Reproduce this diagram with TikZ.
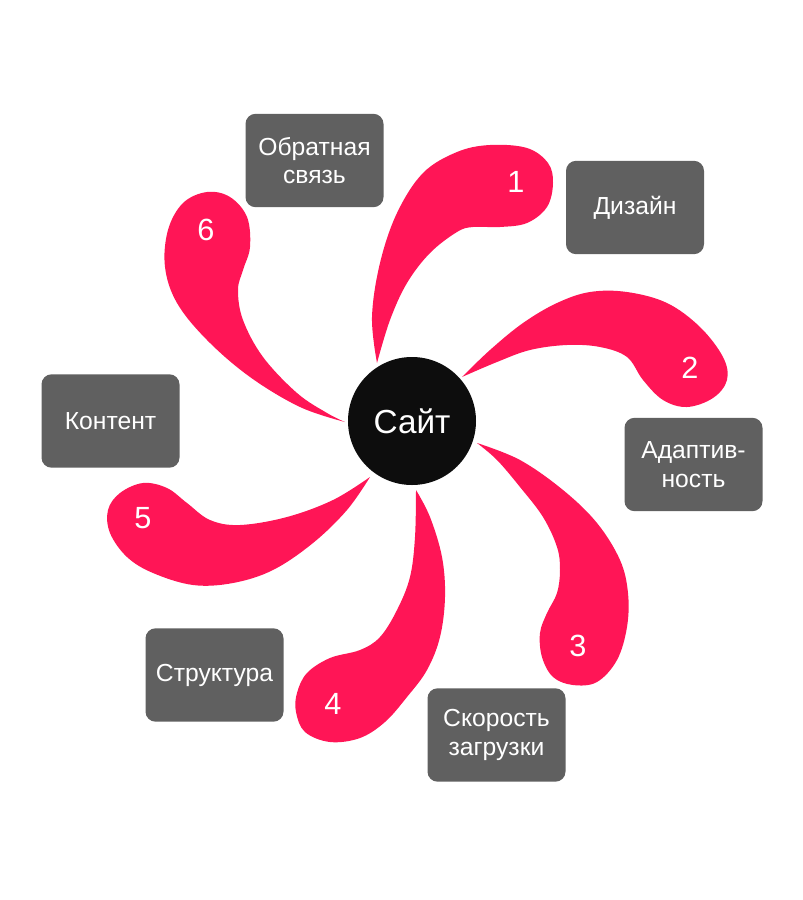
\documentclass[tikz,border=0pt]{standalone}
\usepackage{fontspec}
\setmainfont{Liberation Sans}
\usetikzlibrary{positioning}
\definecolor{cPetal}{HTML}{FF1556}
\definecolor{cBox}{HTML}{606060}
\definecolor{cHub}{HTML}{0D0D0D}
\tikzset{
  petal/.style={fill=cPetal, draw=none},
  topic/.style={fill=cBox, rounded corners=7.5pt, minimum width=103.5pt,
                minimum height=70pt, align=center, text=white, inner sep=2pt,
                font=\fontsize{18.5}{21.5}\selectfont},
  hub/.style={circle, fill=cHub, text=white, minimum size=96pt, inner sep=0pt,
              font=\fontsize{25}{28}\selectfont},
  num/.style={text=white, inner sep=1pt, font=\fontsize{23}{26}\selectfont},
}

\begin{document}
\begin{tikzpicture}[x=0.75pt,y=-0.75pt]
\useasboundingbox (0,0) rectangle (803,900);

% ---------------------------------------------------------------- the six petals
\fill[petal] plot[smooth, tension=0.6] coordinates {(377,363) (372,317) (380,263) (397,213)
  (423,173) (457,152) (490,145) (527,148) (548,163) (553,183) (547,207) (527,223) (500,227)
  (473,227) (457,232) (430,253) (407,283) (390,320) (377,363)} -- cycle;
\fill[petal] plot[smooth, tension=0.6] coordinates {(462,377) (490,350) (523,323) (557,303)
  (590,292) (627,292) (667,303) (700,327) (723,357) (727,380) (713,398) (687,407) (663,400)
  (643,380) (627,357) (600,347) (567,345) (530,350) (497,362) (462,377)} -- cycle;
\fill[petal] plot[smooth, tension=0.6] coordinates {(477,443) (520,460) (563,490) (597,523)
  (620,560) (628,593) (627,627) (617,660) (597,682) (573,685) (553,677) (542,657) (540,633)
  (547,613) (557,593) (560,570) (557,547) (543,517) (520,487) (497,460) (477,443)} -- cycle;
\fill[petal] plot[smooth, tension=0.6] coordinates {(416,490) (430,517) (442,557) (445,597)
  (440,637) (427,670) (407,697) (385,722) (360,738) (330,742) (305,732) (296,712) (297,693)
  (307,673) (330,658) (360,650) (380,637) (397,610) (410,577) (415,537) (416,490)} -- cycle;
\fill[petal] plot[smooth, tension=0.6] coordinates {(370,477) (347,510) (313,543) (273,570)
  (233,583) (193,585) (153,573) (127,557) (110,533) (108,510) (120,493) (143,483) (167,488)
  (187,503) (210,520) (240,525) (287,517) (333,500) (370,477)} -- cycle;
\fill[petal] plot[smooth, tension=0.6] coordinates {(345,422) (327,413) (297,393) (263,357)
  (243,320) (238,290) (243,270) (250,247) (247,217) (230,197) (207,192) (183,203) (168,230)
  (165,267) (177,303) (207,340) (250,377) (300,407) (345,422)} -- cycle;

\foreach \n/\x/\y in {1/516/182, 2/690/368, 3/578/646, 4/333/704, 5/143/518, 6/206/230}
  \node[num] (n\n) at (\x,\y) {\n};

% ---------------------------------------------------------------- hub and topics
\node[hub] (site) at (412,421) {Сайт};

\node[topic] (design)   at (635,207.5)   {Дизайн};
\node[topic] (adapt)    at (693.5,464.5) {Адаптив-\\ность};
\node[topic] (speed)    at (496.5,735)   {Скорость\\загрузки};
\node[topic] (struct)   at (214.5,675)   {Структура};
\node[topic] (content)  at (110.5,421)   {Контент};
\node[topic] (feedback) at (314.5,160.5) {Обратная\\связь};

\end{tikzpicture}
\end{document}
